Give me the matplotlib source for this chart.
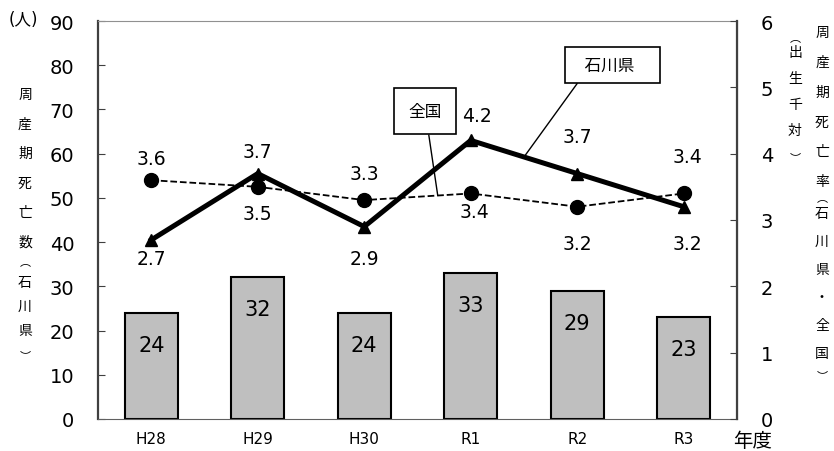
import matplotlib.pyplot as plt

plt.rcParams['font.family'] = ['DejaVu Sans', 'Noto Sans CJK JP']

years = ["H28", "H29", "H30", "R1", "R2", "R3"]
deaths = [24, 32, 24, 33, 29, 23]
rate_ishikawa = [2.7, 3.7, 2.9, 4.2, 3.7, 3.2]
rate_japan = [3.6, 3.5, 3.3, 3.4, 3.2, 3.4]

# label offsets in pixels (dx, dy), up is positive
off_ishikawa = [(0, -19), (0, 22), (0, -32), (6, 25), (0, 37), (4, -37)]
off_japan = [(0, 22), (0, -27), (0, 27), (4, -18), (0, -37), (4, 37)]

W, H = 834, 452
fig = plt.figure(figsize=(W / 100, H / 100), dpi=100)
ax = fig.add_axes([98 / W, 32 / H, 639 / W, 398 / H])
x = list(range(len(years)))

ax.bar(x, deaths, width=0.5, color="#bfbfbf", edgecolor="black", linewidth=1.5, zorder=2)
for xi, v in zip(x, deaths):
    ax.annotate(str(v), (xi, v), xytext=(0, -32 * 0.72), textcoords="offset points",
                ha="center", va="center", fontsize=15)

ax.set_xlim(-0.5, 5.5)
ax.set_ylim(0, 90)
ax.set_yticks(range(0, 91, 10))
ax.set_xticks(x)
ax.set_xticklabels(years, fontsize=11)
ax.tick_params(axis="x", length=0, pad=9)
ax.tick_params(axis="y", direction="in", length=5, labelsize=14, pad=17, color="#404040")
for s in ax.spines.values():
    s.set_color("#909090")
ax.spines["left"].set_color("#404040")
ax.spines["left"].set_linewidth(1.6)
ax.spines["bottom"].set_color("#606060")

ax2 = ax.twinx()
ax2.set_ylim(0, 6)
ax2.set_yticks(range(0, 7))
ax2.tick_params(axis="y", direction="in", length=5, labelsize=14, pad=17, color="#404040")
ax2.spines["right"].set_color("#404040")
ax2.spines["right"].set_linewidth(1.6)
for k in ["left", "top", "bottom"]:
    ax2.spines[k].set_visible(False)

ax2.plot(x, rate_japan, color="black", linestyle="--", linewidth=1.3, marker="o", markersize=10)
ax2.plot(x, rate_ishikawa, color="black", linestyle="-", linewidth=3.6, marker="^", markersize=9)

for xi, v, (dx, dy) in zip(x, rate_japan, off_japan):
    ax2.annotate(f"{v:.1f}", (xi, v), xytext=(dx * 0.72, dy * 0.72), textcoords="offset points",
                 ha="center", va="center", fontsize=13.5)
for xi, v, (dx, dy) in zip(x, rate_ishikawa, off_ishikawa):
    ax2.annotate(f"{v:.1f}", (xi, v), xytext=(dx * 0.72, dy * 0.72), textcoords="offset points",
                 ha="center", va="center", fontsize=13.5)

ax2.annotate("全国", xy=(2.69, 3.37), xytext=(2.57, 4.64), fontsize=12,
             ha="center", va="center",
             bbox=dict(boxstyle="square,pad=0.85", fc="white", ec="black", lw=1.2),
             arrowprops=dict(arrowstyle="-", color="black", lw=1, shrinkA=0, shrinkB=0,
                             relpos=(0.55, 0)))
ax2.annotate("  石川県   ", xy=(3.5, 3.95), xytext=(4.33, 5.34), fontsize=12,
             ha="center", va="center",
             bbox=dict(boxstyle="square,pad=0.55", fc="white", ec="black", lw=1.2),
             arrowprops=dict(arrowstyle="-", color="black", lw=1, shrinkA=0, shrinkB=0,
                             relpos=(0.13, 0)))


def px_text(px, py, s, **kw):
    fig.text(px / W, 1 - py / H, s, ha="center", va="center", **kw)


def column(px, items, size=10):
    for ch, py in items:
        px_text(px, py, ch, fontsize=size if ch not in "︵︶" else 8)


left_items = [(c, 95 + 29.6 * i) for i, c in enumerate("周産期死亡数")]
left_items += [("︵", 262)]
left_items += [(c, 283 + 24 * i) for i, c in enumerate("石川県")]
left_items += [("︶", 356)]
column(25, left_items)

r1_items = [("︵", 38)] + [(c, 53 + 26 * i) for i, c in enumerate("出生千対")] + [("︶", 158)]
column(795, r1_items)

r2_items = [(c, 33 + 29.8 * i) for i, c in enumerate("周産期死亡率")]
r2_items += [("︵", 198)]
r2_items += [(c, 214 + 28 * i) for i, c in enumerate("石川県・全国")]
r2_items += [("︶", 376)]
column(822, r2_items)

px_text(23, 20, "(人)", fontsize=12)
px_text(753, 442, "年度", fontsize=14)

fig.savefig("out.png", dpi=100)
